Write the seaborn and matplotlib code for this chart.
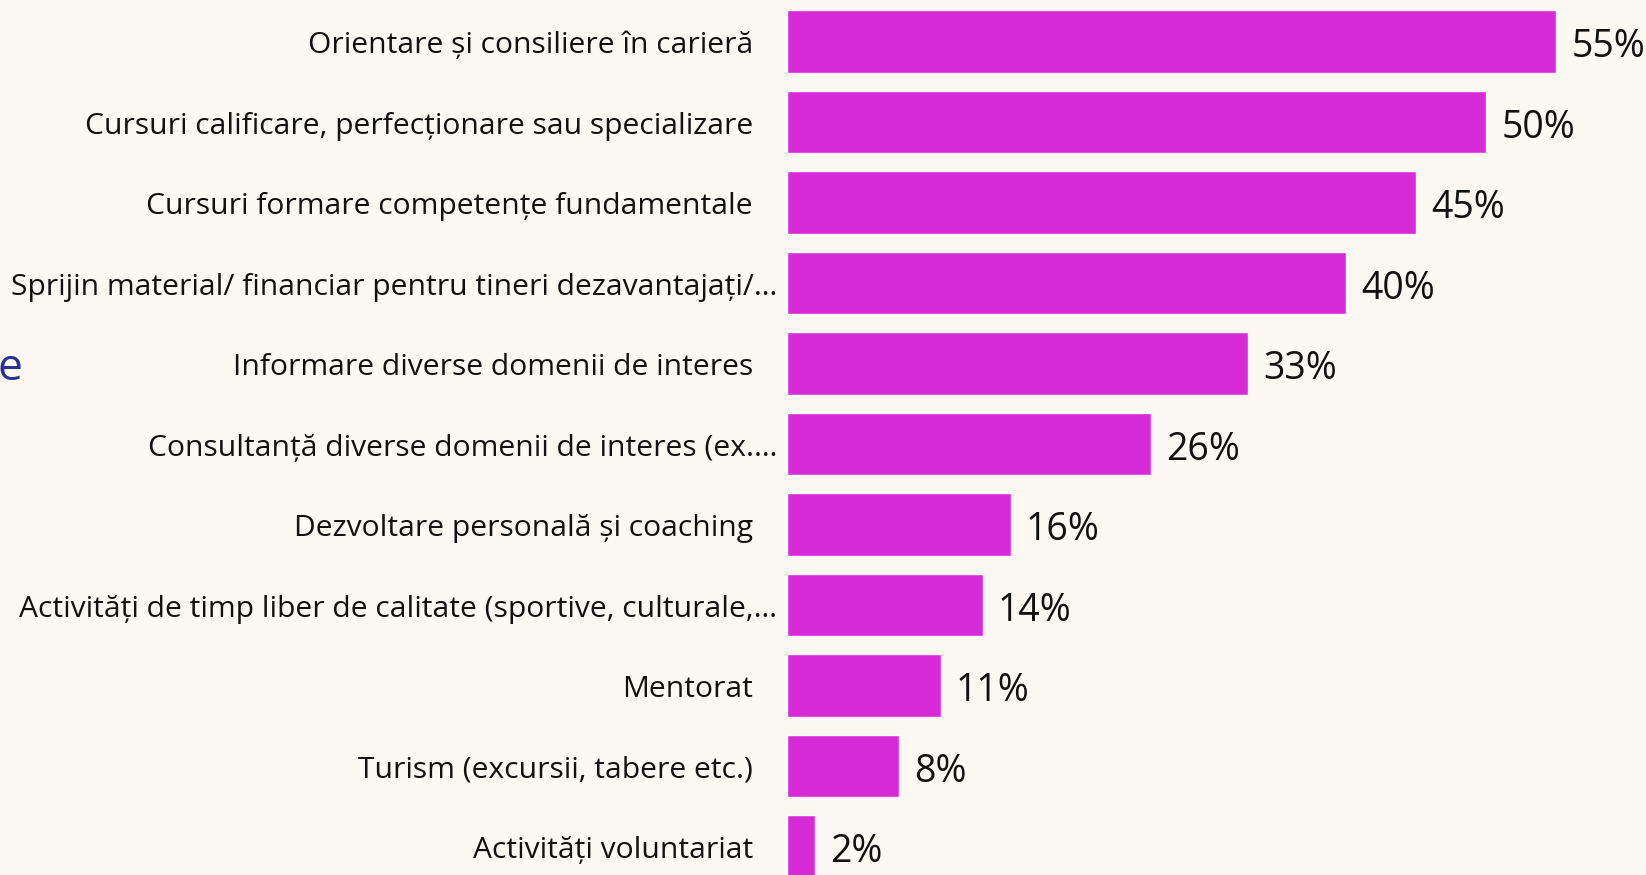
import matplotlib.pyplot as plt
import matplotlib.transforms as mtransforms
import pandas as pd
import seaborn as sns

categories = [
    "Orientare și consiliere în carieră",
    "Cursuri calificare, perfecționare sau specializare",
    "Cursuri formare competențe fundamentale",
    "Sprijin material/ financiar pentru tineri dezavantajați/…",
    "Informare diverse domenii de interes",
    "Consultanță diverse domenii de interes (ex.…",
    "Dezvoltare personală și coaching",
    "Activități de timp liber de calitate (sportive, culturale,…",
    "Mentorat",
    "Turism (excursii, tabere etc.)",
    "Activități voluntariat",
]
values = [55, 50, 45, 40, 33, 26, 16, 14, 11, 8, 2]

BG = "#FCF9F4"
BAR = "#D62BD6"

df = pd.DataFrame({"cat": categories, "val": values})

sns.set_style("white")
plt.rcParams["font.family"] = ["Open Sans", "DejaVu Sans"]

fig = plt.figure(figsize=(16.46, 8.75), dpi=100)
fig.patch.set_facecolor(BG)
ax = fig.add_axes([787 / 1646, 0, 1 - 787 / 1646, 1])
ax.set_facecolor(BG)

sns.barplot(data=df, x="val", y="cat", color=BAR, width=0.78,
            saturation=1, orient="h", ax=ax)

# value labels, a little below the bar centre as in the original
for i, v in enumerate(values):
    ax.annotate(f"{v}%", xy=(v, i), xytext=(11, -4), textcoords="offset points",
                ha="left", va="center", fontsize=27, color="#111111")

ax.set_xlim(0, 61.44)
ax.set_ylim(10.354, -0.516)
ax.set_xlabel("")
ax.set_ylabel("")
ax.set_xticks([])
ax.set_yticklabels([])
ax.tick_params(axis="y", length=0)
sns.despine(ax=ax, left=True, bottom=True)

# category labels: truncated ones overflow a bit further to the right
blend = mtransforms.blended_transform_factory(ax.transAxes, ax.transData)
for i, cat in enumerate(categories):
    shift = -10 if cat.endswith("…") else -34
    tr = mtransforms.offset_copy(blend, fig=fig, x=shift, y=-4, units="dots")
    ax.text(0, i, cat, transform=tr, ha="right", va="center",
            fontsize=21.6, color="#111111")

# fragment of the cut-off title at the left edge
fig.text(22 / 1646, 1 - 369 / 875, "e", ha="right", va="center",
         fontsize=32, color="#2B2F96")

fig.savefig("out.png", dpi=100, facecolor=BG)
